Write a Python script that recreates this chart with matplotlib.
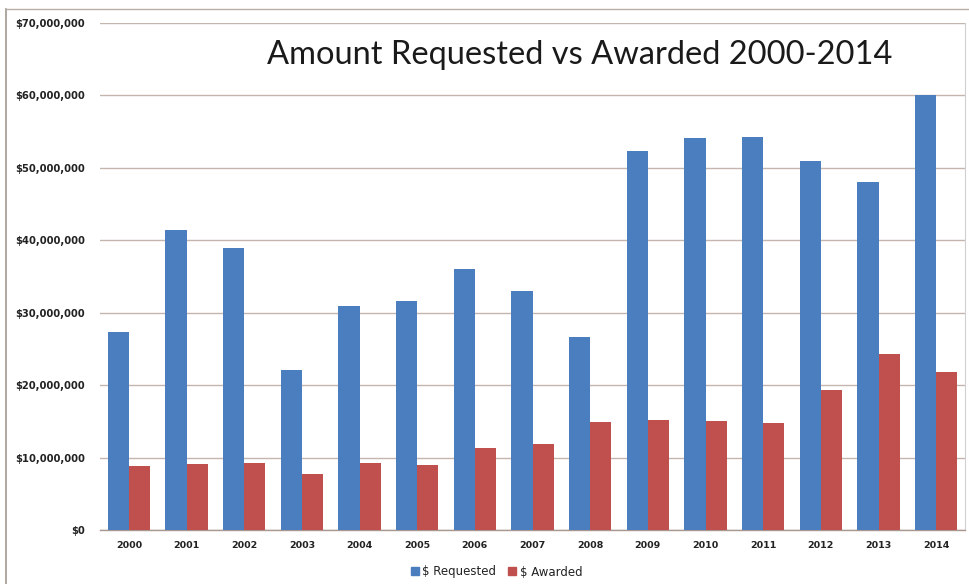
import numpy as np
import matplotlib
matplotlib.use("Agg")
import matplotlib.pyplot as plt
from matplotlib.ticker import FuncFormatter
from matplotlib.lines import Line2D

years = ["2000", "2001", "2002", "2003", "2004", "2005", "2006", "2007",
         "2008", "2009", "2010", "2011", "2012", "2013", "2014"]
requested = [27.4, 41.4, 39.0, 22.1, 30.9, 31.6, 36.0, 33.0,
             26.7, 52.3, 54.1, 54.2, 50.9, 48.1, 60.0]   # $ millions
awarded = [8.9, 9.1, 9.25, 7.8, 9.25, 9.0, 11.3, 11.9,
           14.9, 15.2, 15.0, 14.8, 19.3, 24.3, 21.8]     # $ millions

blue = "#4a7ebf"
red = "#c0504d"
grid_c = "#c4b6ae"

W, H = 969, 584
fig = plt.figure(figsize=(W / 100, H / 100), dpi=100)
ax = fig.add_axes([100 / W, 1 - 530 / H, 865 / W, 507 / H])

x = np.arange(len(years))
bw = 0.365
ax.bar(x - bw / 2, np.array(requested) * 1e6, bw, color=blue, zorder=3,
       label="$ Requested")
ax.bar(x + bw / 2, np.array(awarded) * 1e6, bw, color=red, zorder=3,
       label="$ Awarded")

ax.set_xlim(-0.5, len(years) - 0.5)
ax.set_ylim(0, 70e6)
ax.set_yticks(np.arange(0, 70e6 + 1, 10e6))
ax.yaxis.set_major_formatter(FuncFormatter(lambda v, p: f"${v:,.0f}"))
ax.set_xticks(x)
ax.set_xticklabels(years)
ax.tick_params(axis="y", length=0, pad=11, labelsize=7.2, colors="#222222")
ax.tick_params(axis="x", length=0, pad=8, labelsize=6.8, colors="#222222")
for lab in ax.get_xticklabels() + ax.get_yticklabels():
    lab.set_fontweight("bold")

ax.grid(axis="y", color=grid_c, linewidth=1.0, zorder=0)
for s in ["left", "top"]:
    ax.spines[s].set_visible(False)
ax.spines["right"].set_color("#d0d0d0")
ax.spines["bottom"].set_color("#a89890")
ax.spines["bottom"].set_linewidth(1.0)

fig.text(580 / W, 1 - 55 / H, "Amount Requested vs Awarded 2000-2014",
         ha="center", va="center", fontsize=23.5, family="Lato", color="#1a1a1a")

handles = [Line2D([], [], marker="s", linestyle="", color=blue, markersize=6),
           Line2D([], [], marker="s", linestyle="", color=red, markersize=6)]
fig.legend(handles, ["$ Requested", "$ Awarded"], loc="center",
           bbox_to_anchor=(495 / W, 1 - 572 / H), ncol=2, frameon=False,
           fontsize=8.5, handletextpad=0.0, columnspacing=0.8,
           handlelength=1.2, labelcolor="#222222")

# outer chart frame
fig.add_artist(Line2D([6 / W, 6 / W], [0, 1 - 9 / H], color="#a09890", lw=1.2))
fig.add_artist(Line2D([6 / W, 1], [1 - 9 / H, 1 - 9 / H], color="#b8b0a8", lw=1.0))

fig.savefig("out.png", dpi=100)
